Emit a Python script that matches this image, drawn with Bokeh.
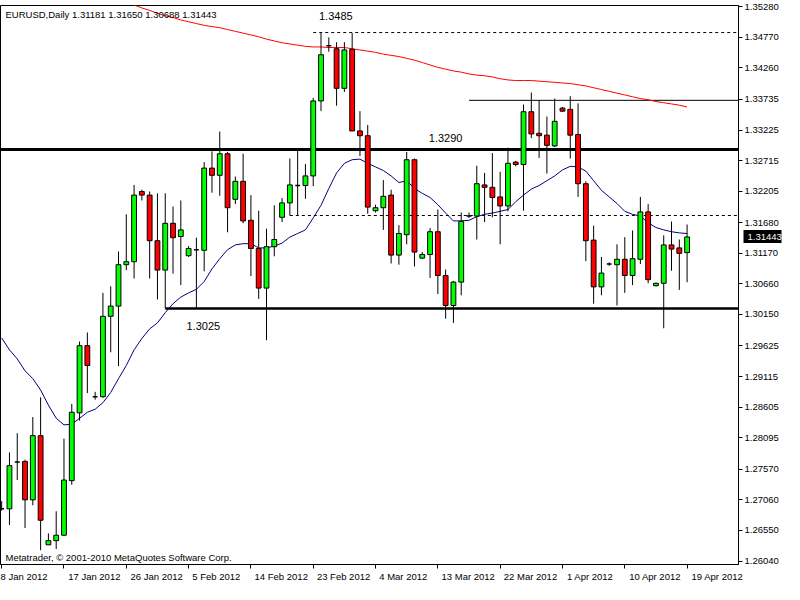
import numpy as np
from bokeh.plotting import figure
from bokeh.models import Range1d, FixedTicker, Label, PrintfTickFormatter, LinearAxis
from bokeh.core.properties import value
from bokeh.embed import file_html
from bokeh.resources import INLINE

# ---------------- data (EURUSD daily, 8 Jan 2012 .. 19 Apr 2012) ----------------
bar_open = [1.2691, 1.2691, 1.2769, 1.2770, 1.2706, 1.2813, 1.2631, 1.2638, 1.2647, 1.2738,
            1.2851, 1.2963, 1.2878, 1.2878, 1.3012, 1.3029, 1.3098, 1.3103, 1.3220, 1.3214,
            1.3138, 1.3089, 1.3167, 1.3145, 1.3113, 1.3123, 1.3122, 1.3259, 1.3247, 1.3283,
            1.3207, 1.3237, 1.3172, 1.3125, 1.3059, 1.3128, 1.3177, 1.3201, 1.3230, 1.3230,
            1.3246, 1.3371, 1.3463, 1.3458, 1.3392, 1.3457, 1.3321, 1.3313, 1.3188, 1.3193,
            1.3214, 1.3114, 1.3148, 1.3273, 1.3109, 1.3115, 1.3153, 1.3080, 1.3030, 1.3069,
            1.3179, 1.3179, 1.3231, 1.3227, 1.3211, 1.3196, 1.3269, 1.3265, 1.3353, 1.3317,
            1.3314, 1.3296, 1.3359, 1.3357, 1.3315, 1.3233, 1.3139, 1.3061, 1.3099, 1.3098,
            1.3107, 1.3080, 1.3107, 1.3186, 1.3063, 1.3067, 1.3131, 1.3126, 1.31181]
bar_high = [1.2704, 1.2785, 1.2817, 1.2773, 1.2844, 1.2877, 1.2650, 1.2687, 1.2808, 1.2866,
            1.2970, 1.2985, 1.2886, 1.3051, 1.3062, 1.3120, 1.3182, 1.3231, 1.3223, 1.3220,
            1.3217, 1.3217, 1.3195, 1.3205, 1.3129, 1.3143, 1.3269, 1.3287, 1.3320, 1.3286,
            1.3245, 1.3283, 1.3214, 1.3188, 1.3158, 1.3197, 1.3209, 1.3275, 1.3290, 1.3266,
            1.3376, 1.3485, 1.3477, 1.3469, 1.3469, 1.3484, 1.3354, 1.3331, 1.3198, 1.3239,
            1.3223, 1.3164, 1.3286, 1.3275, 1.3119, 1.3159, 1.3190, 1.3090, 1.3071, 1.3185,
            1.3185, 1.3263, 1.3251, 1.3284, 1.3253, 1.3293, 1.3271, 1.3365, 1.3385, 1.3371,
            1.3345, 1.3375, 1.3361, 1.3379, 1.3367, 1.3237, 1.3163, 1.3111, 1.3102, 1.3132,
            1.3144, 1.3155, 1.3211, 1.3199, 1.3068, 1.3147, 1.3170, 1.3140, 1.31650]
bar_low = [1.2688, 1.2664, 1.2739, 1.2659, 1.2697, 1.2622, 1.2631, 1.2624, 1.2646, 1.2731,
           1.2838, 1.2884, 1.2873, 1.2876, 1.2952, 1.2929, 1.3089, 1.3075, 1.3205, 1.3075,
           1.3040, 1.3025, 1.3083, 1.3064, 1.3111, 1.3025, 1.3087, 1.3218, 1.3213, 1.3152,
           1.3199, 1.3167, 1.3079, 1.3041, 1.2972, 1.3112, 1.3169, 1.3180, 1.3180, 1.3208,
           1.3229, 1.3354, 1.3453, 1.3363, 1.3386, 1.3321, 1.3279, 1.3183, 1.3185, 1.3156,
           1.3100, 1.3098, 1.3132, 1.3095, 1.3108, 1.3076, 1.3049, 1.3008, 1.3001, 1.3047,
           1.3176, 1.3140, 1.3169, 1.3177, 1.3132, 1.3187, 1.3262, 1.3188, 1.3309, 1.3276,
           1.3250, 1.3294, 1.3353, 1.3275, 1.3211, 1.3104, 1.3033, 1.3047, 1.3096, 1.3030,
           1.3051, 1.3064, 1.3099, 1.3067, 1.3062, 1.2992, 1.3088, 1.3056, 1.30688]
bar_close = [1.2691, 1.2763, 1.2769, 1.2706, 1.2813, 1.2672, 1.2638, 1.2647, 1.2739, 1.2852,
             1.2963, 1.2930, 1.2878, 1.3012, 1.3029, 1.3098, 1.3103, 1.3214, 1.3214, 1.3138,
             1.3089, 1.3167, 1.3143, 1.3156, 1.3125, 1.3123, 1.3259, 1.3247, 1.3283, 1.3193,
             1.3237, 1.3171, 1.3125, 1.3059, 1.3128, 1.3140, 1.3201, 1.3231, 1.3230, 1.3246,
             1.3371, 1.3448, 1.3463, 1.3392, 1.3456, 1.3321, 1.3313, 1.3194, 1.3193, 1.3212,
             1.3114, 1.3150, 1.3273, 1.3119, 1.3115, 1.3153, 1.3080, 1.3030, 1.3069, 1.3170,
             1.3179, 1.3233, 1.3227, 1.3210, 1.3196, 1.3267, 1.3265, 1.3353, 1.3316, 1.3313,
             1.3297, 1.3337, 1.3354, 1.3314, 1.3233, 1.3138, 1.3061, 1.3084, 1.3099, 1.3107,
             1.3080, 1.3108, 1.3186, 1.3073, 1.3067, 1.3131, 1.3124, 1.3117, 1.31443]

# blue moving average, one value per bar
ma_fast = [1.2976, 1.2956, 1.2941, 1.2921, 1.2908, 1.2889, 1.2864, 1.2842, 1.2831, 1.2832,
           1.2842, 1.2852, 1.2857, 1.2868, 1.2885, 1.2908, 1.2930, 1.2956, 1.2975, 1.2991,
           1.3001, 1.3018, 1.3033, 1.3044, 1.3051, 1.3057, 1.3070, 1.3091, 1.3108, 1.3123,
           1.3131, 1.3133, 1.3133, 1.3126, 1.3126, 1.3129, 1.3134, 1.3144, 1.3150, 1.3156,
           1.3176, 1.3197, 1.3225, 1.3251, 1.3267, 1.3273, 1.3274, 1.3267, 1.3261, 1.3255,
           1.3246, 1.3235, 1.3238, 1.3225, 1.3217, 1.3210, 1.3198, 1.3184, 1.3171, 1.3171,
           1.3172, 1.3178, 1.3182, 1.3184, 1.3187, 1.3190, 1.3203, 1.3214, 1.3224, 1.3230,
           1.3238, 1.3246, 1.3256, 1.3262, 1.3261, 1.3254, 1.3238, 1.3222, 1.3211, 1.3200,
           1.3187, 1.3182, 1.3179, 1.3168, 1.3160, 1.3156, 1.3153, 1.3151, 1.3150]

# red moving average, bars 16..88 (earlier values are above the chart)
ma_slow_first_bar = 16
ma_slow = [1.3536, 1.3531, 1.3526, 1.3522, 1.3517, 1.3513, 1.3510, 1.3506, 1.3503, 1.3500,
           1.3497, 1.3495, 1.3493, 1.3490, 1.3487, 1.3484, 1.3481, 1.3478, 1.3474, 1.3471,
           1.3468, 1.3466, 1.3464, 1.3462, 1.3461, 1.3461, 1.3460, 1.3460, 1.3460, 1.3458,
           1.3456, 1.3454, 1.3452, 1.3449, 1.3447, 1.3445, 1.3442, 1.3439, 1.3435, 1.3431,
           1.3427, 1.3424, 1.3421, 1.3419, 1.3416, 1.3414, 1.3413, 1.3411, 1.3408, 1.3406,
           1.3405, 1.3405, 1.3405, 1.3404, 1.3403, 1.3402, 1.3401, 1.3400, 1.3398, 1.3396,
           1.3393, 1.3390, 1.3387, 1.3384, 1.3381, 1.3378, 1.3375, 1.3373, 1.3370, 1.3368,
           1.3366, 1.3364, 1.3361]

date_tick_bars = [0, 8, 16, 24, 32, 40, 48, 56, 64, 72, 80, 88]
date_tick_labels = ["8 Jan 2012", "17 Jan 2012", "26 Jan 2012", "5 Feb 2012", "14 Feb 2012",
                    "23 Feb 2012", "4 Mar 2012", "13 Mar 2012", "22 Mar 2012", "1 Apr 2012",
                    "10 Apr 2012", "19 Apr 2012"]
price_ticks = [1.26040, 1.26550, 1.27060, 1.27570, 1.28095, 1.28605, 1.29115, 1.29625,
               1.30150, 1.30660, 1.31170, 1.31680, 1.32205, 1.32715, 1.33225, 1.33735,
               1.34260, 1.34770, 1.35280]

# drawn horizontal levels
support_resistance = [1.3290, 1.3025]
support_resistance_start = [None, 21]
dashed_levels = [1.3485, 1.3180]
dashed_levels_start = [40, 37]
thin_level = 1.3372
thin_level_start = 60
level_labels = ["1.3485", "1.3290", "1.3025"]

symbol_title = "EURUSD,Daily  1.31181 1.31650 1.30688 1.31443"
copyright_text = "Metatrader, \u00a9 2001-2010 MetaQuotes Software Corp."
last_price = bar_close[-1]

# ---------------- figure ----------------
X0, X1 = -0.15, 94.6
Y0, Y1 = 1.25982, 1.35301
FONT = "Liberation Sans"

p = figure(width=784, height=584, output_backend="svg", toolbar_location=None,
           x_range=Range1d(X0, X1), y_range=Range1d(Y0, Y1), y_axis_location="right",
           min_border_left=0, min_border_top=5, min_border_right=0, min_border_bottom=0)
p.xgrid.visible = False
p.ygrid.visible = False
p.outline_line_color = "black"
p.outline_line_width = 1
p.background_fill_color = "white"
p.border_fill_color = "white"

yax = p.yaxis[0]
yax.ticker = FixedTicker(ticks=price_ticks)
yax.formatter = PrintfTickFormatter(format="%.5f")
yax.major_label_text_font = FONT
yax.major_label_text_font_size = "9.5px"
yax.major_label_text_color = "black"
yax.major_tick_in = 0
yax.major_tick_out = 4
yax.minor_tick_out = 0
yax.minor_tick_in = 0
yax.major_label_standoff = 2
yax.axis_line_color = "black"

# current-price marker: an almost zero-width axis stacked outside the price scale,
# whose inward tick (a thick black bar) and label reach back over the price scale
pax = LinearAxis(ticker=FixedTicker(ticks=[last_price]),
                 formatter=PrintfTickFormatter(format="%.5f"),
                 axis_line_color=None, major_tick_out=0, major_tick_in=38,
                 major_tick_line_width=13, major_tick_line_color="black",
                 major_tick_line_cap="butt", minor_tick_in=0, minor_tick_out=0,
                 major_label_standoff=-34, major_label_text_color="white",
                 major_label_text_font=FONT, major_label_text_font_size="9.5px")
p.add_layout(pax, "right")

# left-aligned date labels: centred text padded on the left with no-break spaces
_W = {"0": 556, "1": 556, "2": 556, "3": 556, "4": 556, "5": 556, "6": 556, "7": 556,
      "8": 556, "9": 556, " ": 278, "J": 500, "a": 556, "n": 556, "F": 611, "e": 556,
      "b": 556, "M": 833, "r": 333, "A": 667, "p": 556}
def _padded(s):
    w = sum(_W.get(ch, 556) for ch in s)
    return "\u00a0" * (int(round(w / 278.0)) + 3) + s

xax = p.xaxis[0]
xax.ticker = FixedTicker(ticks=date_tick_bars)
overrides = {b: _padded(lab) for b, lab in zip(date_tick_bars, date_tick_labels)}
overrides[date_tick_bars[0]] = date_tick_labels[0]   # first label is held inside the canvas edge
xax.major_label_overrides = overrides
xax.major_label_text_font = FONT
xax.major_label_text_font_size = "9.5px"
xax.major_label_text_color = "black"
xax.major_tick_in = 0
xax.major_tick_out = 4
xax.minor_tick_out = 0
xax.minor_tick_in = 0
xax.major_label_standoff = 2
xax.axis_line_color = "black"

# ---------------- levels ----------------
for lvl, start, lw in zip(support_resistance, support_resistance_start, [3, 2.5]):
    s = X0 if start is None else start
    p.segment(x0=[s], y0=[lvl], x1=[X1], y1=[lvl], line_color="black", line_width=lw)
for lvl, start in zip(dashed_levels, dashed_levels_start):
    p.segment(x0=[start], y0=[lvl], x1=[X1], y1=[lvl], line_color="black",
              line_width=1, line_dash="3 3")
p.segment(x0=[thin_level_start], y0=[thin_level], x1=[X1], y1=[thin_level],
          line_color="black", line_width=1)

# ---------------- moving averages ----------------
idx = np.arange(len(bar_open))
p.line(idx, ma_fast, line_color="#000080", line_width=1)
p.line(np.arange(ma_slow_first_bar, ma_slow_first_bar + len(ma_slow)), ma_slow,
       line_color="#ff0000", line_width=1)

# ---------------- candles ----------------
o = np.array(bar_open); h = np.array(bar_high); l = np.array(bar_low); c = np.array(bar_close)
p.segment(x0=idx, y0=h, x1=idx, y1=l, line_color="black", line_width=1)
up = c > o
dn = c < o
dj = c == o
BW = 0.62
p.vbar(x=idx[up], width=BW, top=c[up], bottom=o[up], fill_color="#00ff00", line_color="black", line_width=1)
p.vbar(x=idx[dn], width=BW, top=o[dn], bottom=c[dn], fill_color="#ff0000", line_color="black", line_width=1)
p.segment(x0=idx[dj] - BW / 2, y0=o[dj], x1=idx[dj] + BW / 2, y1=o[dj], line_color="black", line_width=1.5)

# ---------------- text ----------------
p.text(x=[42.9, 57.0, 25.9],
       y=[dashed_levels[0] + 0.0028, support_resistance[0] + 0.0019, support_resistance[1] - 0.0029],
       text=level_labels, text_font=value(FONT), text_font_size="11px",
       text_align="center", text_baseline="middle", text_color="black")

p.add_layout(Label(x=X0, y=Y1, x_offset=5, y_offset=-3, text=symbol_title, text_font=FONT,
                   text_font_size="9.5px", text_baseline="top", text_color="black"))
p.add_layout(Label(x=X0, y=Y0, x_offset=5, y_offset=2, text=copyright_text, text_font=FONT,
                   text_font_size="9.5px", text_baseline="bottom", text_color="black"))

open("out.html", "w").write(file_html(p, INLINE))
